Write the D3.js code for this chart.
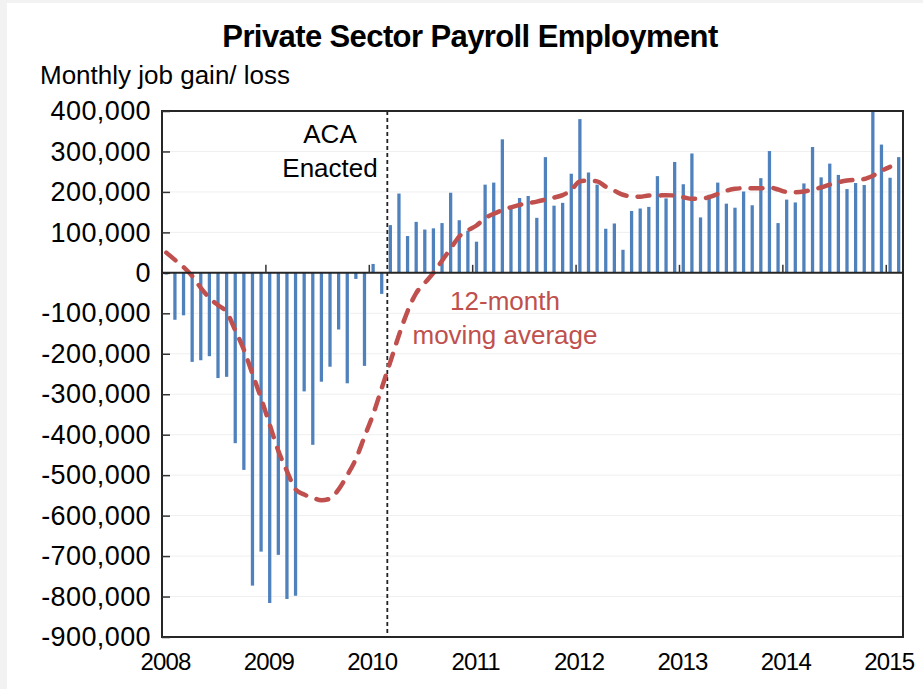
<!DOCTYPE html>
<html>
<head>
<meta charset="utf-8">
<script src="https://cdn.jsdelivr.net/npm/d3@7"></script>
<style>
	body { margin: 0; background: #f2f2f2; }
	svg text { font-family: "Liberation Sans", Arial, sans-serif; fill: #000; }
</style>
</head>
<body>
<svg id="chart" width="923" height="689"></svg>
<script>
// monthly private payroll change, thousands, Jan 2008 .. Feb 2015
const jobGains = [
	-4, -116, -105, -220, -216, -206, -260, -257, -421, -487, -773, -689,
	-816, -697, -806, -798, -293, -425, -269, -232, -140, -273, -15, -230,
	22, -52, 118, 196, 91, 126, 107, 110, 123, 198, 130, 104,
	77, 218, 223, 330, 159, 185, 190, 136, 286, 166, 173, 245,
	380, 248, 218, 109, 122, 57, 153, 159, 163, 239, 184, 274,
	219, 295, 137, 193, 223, 171, 161, 201, 167, 234, 301, 123,
	181, 174, 221, 311, 236, 270, 242, 207, 222, 217, 399, 317,
	235, 286
];

// 12-month moving average, thousands
const movingAvg = [
	50, 32, 14, -8, -37, -62, -80, -97, -142, -190, -250, -310,
	-375, -440, -490, -535, -548, -556, -562, -558, -535, -500, -460, -405,
	-350, -285, -220, -154, -95, -50, -25, 0, 30, 60, 90, 105,
	117, 135, 146, 155, 162, 168, 172, 176, 181, 186, 192, 205,
	226, 228, 226, 213, 203, 193, 189, 188, 191, 191, 192, 191,
	187, 183, 183, 187, 195, 203, 208, 209, 209, 209, 211, 206,
	200, 199, 201, 206, 211, 218, 224, 228, 230, 232, 240, 252,
	262
];

const startYear = 2008;
const yearTicks = [2008, 2009, 2010, 2011, 2012, 2013, 2014, 2015];
const yTicks = d3.range(-900000, 400001, 100000);
const acaEnacted = 2010 + 2.15 / 12;

const svg = d3.select("#chart");
const plot = { left: 162, right: 903, top: 111, bottom: 637 };

svg.append("rect")
	.attr("x", 7).attr("y", 3)
	.attr("width", 916).attr("height", 686)
	.attr("fill", "#fff");

const x = d3.scaleBand()
	.domain(d3.range(jobGains.length))
	.range([plot.left, plot.right])
	.paddingInner(0.62)
	.paddingOuter(0.31);

const xYear = d3.scaleLinear()
	.domain([startYear, startYear + jobGains.length / 12])
	.range([plot.left, plot.right]);

const y = d3.scaleLinear()
	.domain([-900000, 400000])
	.range([plot.bottom, plot.top]);

const fmt = d => d3.format(",")(d).replace("\u2212", "-");

// gridlines
svg.append("g")
	.selectAll("line")
	.data(yTicks)
	.join("line")
	.attr("x1", plot.left).attr("x2", plot.right)
	.attr("y1", d => y(d)).attr("y2", d => y(d))
	.attr("stroke", "#efefef")
	.attr("stroke-width", 1);

// bars
svg.append("g")
	.selectAll("rect")
	.data(jobGains)
	.join("rect")
	.attr("x", (d, i) => x(i))
	.attr("width", x.bandwidth())
	.attr("y", d => y(Math.max(0, d * 1000)))
	.attr("height", d => Math.abs(y(d * 1000) - y(0)))
	.attr("fill", "#4F81BD");

// ACA enacted marker
svg.append("line")
	.attr("x1", xYear(acaEnacted)).attr("x2", xYear(acaEnacted))
	.attr("y1", plot.top).attr("y2", plot.bottom)
	.attr("stroke", "#222")
	.attr("stroke-width", 1.8)
	.attr("stroke-dasharray", "4,3");

// moving average
const line = d3.line()
	.x((d, i) => x(i) + x.bandwidth() / 2)
	.y(d => y(d * 1000))
	.curve(d3.curveMonotoneX);

svg.append("path")
	.datum(movingAvg)
	.attr("d", line)
	.attr("fill", "none")
	.attr("stroke", "#C0504D")
	.attr("stroke-width", 4.5)
	.attr("stroke-linecap", "round")
	.attr("stroke-dasharray", "12,11");

// frame
svg.append("rect")
	.attr("x", plot.left).attr("y", plot.top)
	.attr("width", plot.right - plot.left).attr("height", plot.bottom - plot.top)
	.attr("fill", "none")
	.attr("stroke", "#262626")
	.attr("stroke-width", 2);

// y axis (ticks inward)
const yAxis = svg.append("g")
	.attr("transform", `translate(${plot.left},0)`)
	.call(d3.axisLeft(y).tickValues(yTicks).tickFormat(fmt).tickSizeInner(-8).tickSizeOuter(0).tickPadding(11));
yAxis.select(".domain").remove();
yAxis.selectAll(".tick line").attr("stroke", "#333").attr("stroke-width", 1.5);
yAxis.selectAll(".tick text")
	.attr("font-size", 27)
	.attr("letter-spacing", 0.4)
	.attr("font-family", null);

// zero line with year ticks
svg.append("line")
	.attr("x1", plot.left).attr("x2", plot.right)
	.attr("y1", y(0)).attr("y2", y(0))
	.attr("stroke", "#262626")
	.attr("stroke-width", 2);

const zeroTicks = svg.append("g")
	.attr("transform", `translate(0,${y(0)})`)
	.call(d3.axisTop(xYear).tickValues(yearTicks.slice(1)).tickSizeInner(8).tickSizeOuter(0).tickFormat(""));
zeroTicks.select(".domain").remove();
zeroTicks.selectAll(".tick line").attr("stroke", "#333").attr("stroke-width", 1.5);

// year labels
const xAxis = svg.append("g")
	.attr("transform", `translate(0,${plot.bottom})`)
	.call(d3.axisBottom(xYear).tickValues(yearTicks).tickFormat(d3.format("d")).tickSize(0).tickPadding(16));
xAxis.select(".domain").remove();
xAxis.selectAll(".tick text")
	.attr("font-size", 24)
	.attr("letter-spacing", -0.8)
	.attr("dx", 3)
	.attr("font-family", null);

// titles
svg.append("text")
	.attr("x", 470).attr("y", 47)
	.attr("text-anchor", "middle")
	.attr("font-size", 31)
	.attr("font-weight", "bold")
	.attr("letter-spacing", -0.6)
	.text("Private Sector Payroll Employment");

svg.append("text")
	.attr("x", 40).attr("y", 84)
	.attr("font-size", 26)
	.text("Monthly job gain/ loss");

// annotations
const aca = svg.append("text")
	.attr("text-anchor", "middle")
	.attr("font-size", 26);
aca.append("tspan").attr("x", 330).attr("y", 143).text("ACA");
aca.append("tspan").attr("x", 330).attr("y", 177).text("Enacted");

const ma = svg.append("text")
	.attr("text-anchor", "middle")
	.attr("font-size", 26)
	.style("fill", "#C0504D");
ma.append("tspan").attr("x", 505).attr("y", 310).text("12-month");
ma.append("tspan").attr("x", 505).attr("y", 344).text("moving average");
</script>
</body>
</html>
